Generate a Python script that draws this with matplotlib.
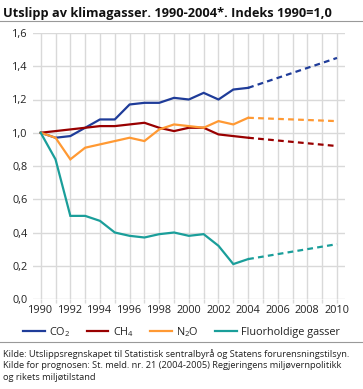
import matplotlib
matplotlib.use("Agg")
import matplotlib.pyplot as plt
from matplotlib.lines import Line2D

plt.rcParams['font.family'] = ['Open Sans', 'DejaVu Sans']

# historical years and values (index 1990 = 1,0)
years = list(range(1990, 2005))
co2 = [1.00, 0.97, 0.98, 1.03, 1.08, 1.08, 1.17, 1.18, 1.18, 1.21, 1.20, 1.24, 1.20, 1.26, 1.27]
ch4 = [1.00, 1.01, 1.02, 1.03, 1.04, 1.04, 1.05, 1.06, 1.03, 1.01, 1.03, 1.03, 0.99, 0.98, 0.97]
n2o = [1.00, 0.97, 0.84, 0.91, 0.93, 0.95, 0.97, 0.95, 1.02, 1.05, 1.04, 1.03, 1.07, 1.05, 1.09]
fluor = [1.00, 0.84, 0.50, 0.50, 0.47, 0.40, 0.38, 0.37, 0.39, 0.40, 0.38, 0.39, 0.32, 0.21, 0.24]

# projections (prognose)
proj_years = [2004, 2010]
co2_proj = [1.27, 1.45]
ch4_proj = [0.97, 0.92]
n2o_proj = [1.09, 1.07]
fluor_proj = [0.24, 0.33]

labels = ['$\\mathregular{CO_2}$', '$\\mathregular{CH_4}$', '$\\mathregular{N_2O}$', 'Fluorholdige gasser']
colors = ['#1f3c99', '#990000', '#ff9933', '#1a9e9a']

yticks = [0.0, 0.2, 0.4, 0.6, 0.8, 1.0, 1.2, 1.4, 1.6]
ytick_labels = ['0,0', '0,2', '0,4', '0,6', '0,8', '1,0', '1,2', '1,4', '1,6']
xtick_years = list(range(1990, 2011))

fig = plt.figure(figsize=(3.63, 3.89), dpi=100)
ax = fig.add_axes([33/363, 1 - 299/389, 312/363, 266/389])

grid_col = '#d9d9d9'
for yv in yticks:
    ax.axhline(yv, color=grid_col, lw=1.0, zorder=0)
for xv in xtick_years:
    ax.plot([xv, xv], [0, 1.6], color=grid_col, lw=1.0, zorder=0)

hist = [co2, ch4, n2o, fluor]
proj = [co2_proj, ch4_proj, n2o_proj, fluor_proj]
for h, p, c in zip(hist, proj, colors):
    ax.plot(years, h, color=c, lw=1.6, solid_joinstyle='miter', zorder=3)
    ax.plot(proj_years, p, color=c, lw=1.6, dashes=(2.6, 1.9), zorder=3)

ax.set_xlim(1989.48, 2010.54)
ax.set_ylim(0, 1.6)
for s in ax.spines.values():
    s.set_visible(False)

ax.set_xticks(xtick_years)
ax.set_xticklabels([str(y) if y % 2 == 0 else '' for y in xtick_years])
ax.set_yticks(yticks)
ax.set_yticklabels(ytick_labels)
ax.tick_params(axis='x', length=3, color=grid_col, width=1.0, pad=1, labelsize=7.8, labelcolor='#222222')
ax.tick_params(axis='y', length=0, pad=4, labelsize=7.8, labelcolor='#222222')

fig.text(3/363, 1 - 13/389, 'Utslipp av klimagasser. 1990-2004*. Indeks 1990=1,0',
         fontsize=9.2, fontweight='bold', ha='left', va='center', color='#111111')
fig.add_artist(Line2D([0, 1], [1 - 21/389, 1 - 21/389], color='#999999', lw=0.8))
fig.add_artist(Line2D([0, 1], [1 - 342/389, 1 - 342/389], color='#999999', lw=0.8))

handles = [Line2D([0], [0], color=c, lw=1.6) for c in colors]
fig.legend(handles, labels, loc='center', bbox_to_anchor=(0.5, 1 - 332/389), ncol=4,
           frameon=False, fontsize=7.8, handlelength=2.0, handletextpad=0.4, columnspacing=1.5,
           labelcolor='#222222')

src = ['Kilde: Utslippsregnskapet til Statistisk sentralbyrå og Statens forurensningstilsyn.',
       'Kilde for prognosen: St. meld. nr. 21 (2004-2005) Regjeringens miljøvernpolitikk',
       'og rikets miljøtilstand']
for i, line in enumerate(src):
    fig.text(3/363, 1 - (354 + i * 11.5)/389, line, fontsize=6.7, ha='left', va='center', color='#222222')

fig.savefig('out.png', dpi=100)
